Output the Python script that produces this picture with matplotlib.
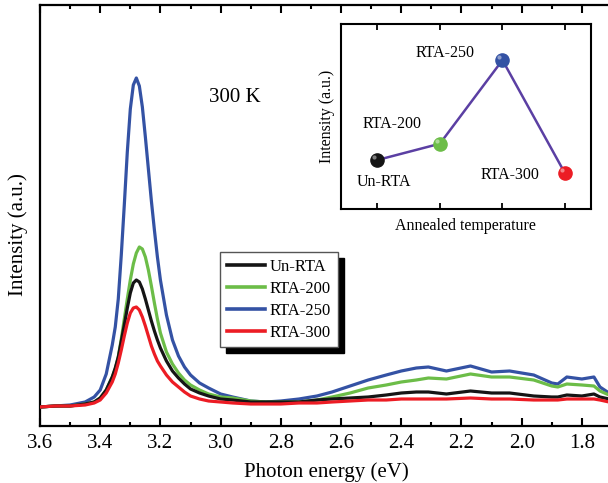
import matplotlib
matplotlib.use('Agg')
import matplotlib.pyplot as plt
import numpy as np

plt.rcParams['font.family'] = ['Liberation Serif', 'DejaVu Serif']

# Photon energy grid (eV) and PL intensities
energy = [3.60, 3.55, 3.50, 3.45, 3.42, 3.40, 3.38, 3.36, 3.35, 3.34, 3.33, 3.32,
          3.31, 3.30, 3.29, 3.28, 3.27, 3.26, 3.25, 3.24, 3.23, 3.22, 3.21, 3.20,
          3.18, 3.16, 3.14, 3.12, 3.10, 3.07, 3.04, 3.00, 2.96, 2.90, 2.85, 2.80,
          2.74, 2.68, 2.63, 2.57, 2.51, 2.45, 2.40, 2.35, 2.31, 2.25, 2.17, 2.10,
          2.04, 1.96, 1.90, 1.88, 1.85, 1.80, 1.76, 1.74, 1.71]

un_rta = [0, 1, 1, 3, 5, 9, 17, 30, 39, 50, 66, 82,
          99, 114, 124, 127, 125, 118, 108, 97, 86, 76, 67, 59,
          46, 36, 29, 23, 18, 14, 11, 8, 7, 5, 5, 5,
          5, 7, 8, 9, 10, 12, 14, 15, 15, 13, 16, 14,
          14, 11, 10, 10, 12, 11, 13, 10, 8]

rta_200 = [0, 1, 1, 3, 5, 9, 17, 30, 38, 50, 68, 88,
           108, 127, 143, 154, 160, 158, 150, 137, 121, 104, 88, 74,
           55, 43, 34, 27, 22, 17, 13, 10, 9, 6, 5, 5,
           5, 7, 10, 14, 19, 22, 25, 27, 29, 28, 33, 30,
           30, 27, 21, 20, 23, 22, 21, 16, 12]

rta_250 = [0, 1, 2, 5, 10, 17, 33, 62, 80, 108, 152, 202,
           255, 298, 322, 329, 321, 300, 270, 238, 206, 177, 150, 127,
           92, 67, 51, 40, 32, 24, 19, 13, 10, 6, 5, 6,
           8, 11, 15, 21, 27, 32, 36, 39, 40, 36, 41, 35,
           36, 32, 24, 23, 30, 28, 30, 20, 14]

rta_300 = [0, 1, 1, 2, 4, 7, 14, 25, 33, 44, 57, 71,
           84, 94, 99, 100, 97, 90, 81, 71, 61, 53, 46, 41,
           32, 25, 20, 15, 11, 8, 6, 5, 4, 3, 3, 3,
           4, 4, 5, 6, 7, 7, 8, 8, 8, 8, 9, 8,
           8, 7, 7, 7, 8, 8, 8, 7, 5]

labels = ['Un-RTA', 'RTA-200', 'RTA-250', 'RTA-300']
colors = ['#151515', '#6cbd48', '#3452a4', '#ec1c24']

# inset: peak intensity vs annealing
inset_pos = [0, 1, 2, 3]
peak_int = [127, 160, 329, 100]

fig = plt.figure(figsize=(6.08, 4.83), dpi=100)
ax = fig.add_axes([40 / 608, 1 - 426 / 483, 572 / 608, 421 / 483])

series = [un_rta, rta_200, rta_250, rta_300]
zord = [4, 3, 2, 5]
handles = []
for y, c, lab, z in zip(series, colors, labels, zord):
    h, = ax.plot(energy, y, color=c, lw=2.3, label=lab, zorder=z)
    handles.append(h)

ax.set_xlim(3.6, 1.7)
ax.set_ylim(-19, 402)
ax.set_xticks(np.arange(3.6, 1.75, -0.2))
ax.set_xticklabels(['3.6', '3.4', '3.2', '3.0', '2.8', '2.6', '2.4', '2.2', '2.0', '1.8'])
ax.set_xticks(np.arange(3.5, 1.7, -0.2), minor=True)
ax.set_yticks([])
ax.tick_params(axis='x', which='major', direction='in', length=6, width=1.5,
               top=True, labelsize=15, pad=6)
ax.tick_params(axis='x', which='minor', direction='in', length=3, width=1.5, top=True)
for s in ax.spines.values():
    s.set_linewidth(1.6)

ax.set_xlabel('Photon energy (eV)', fontsize=15)
ax.xaxis.set_label_coords(0.5, -0.085)
ax.set_ylabel('Intensity (a.u.)', fontsize=15)
ax.yaxis.set_label_coords(-0.021, 0.454)

fig.text(235 / 608, 1 - 98 / 483, '300 K', fontsize=15, ha='center', va='center')

leg = ax.legend(handles=handles, loc='upper left',
                bbox_to_anchor=(220 / 608, 1 - 252 / 483), bbox_transform=fig.transFigure,
                borderaxespad=0, fontsize=12, handlelength=2.3, handletextpad=0.3,
                borderpad=0.4, labelspacing=0.36, fancybox=False,
                shadow={'ox': 4.3, 'oy': -4.3, 'facecolor': 'black',
                        'edgecolor': 'black', 'alpha': 1})
leg.get_frame().set_edgecolor('#555555')
leg.get_frame().set_linewidth(1.0)
for ln in leg.get_lines():
    ln.set_linewidth(2.6)

# inset
ax2 = fig.add_axes([340.7 / 608, 1 - 209 / 483, 250 / 608, 185 / 483])
ax2.plot(inset_pos, peak_int, color='#5b3fa3', lw=1.8, zorder=2)
for xx, yy, c in zip(inset_pos, peak_int, colors):
    ax2.plot(xx, yy, 'o', ms=9.5, color=c, mec=c, zorder=3)
    ax2.plot(xx - 0.05, yy + 6, 'o', ms=3, color='white', alpha=0.45, mew=0, zorder=4)
ax2.set_xlim(-0.585, 3.41)
ax2.set_ylim(28, 402)
ax2.set_xticks(inset_pos)
ax2.set_xticklabels([])
ax2.set_yticks([])
ax2.tick_params(axis='x', direction='in', length=4, width=1.3, top=True)
for s in ax2.spines.values():
    s.set_linewidth(1.5)
ax2.set_xlabel('Annealed temperature', fontsize=11.5, labelpad=3)
ax2.set_ylabel('Intensity (a.u.)', fontsize=11.5, labelpad=4)

txt_pos = {'Un-RTA': (384, 182), 'RTA-200': (392, 124), 'RTA-250': (445, 53),
           'RTA-300': (510, 175)}
for lab in labels:
    px, py = txt_pos[lab]
    fig.text(px / 608, 1 - py / 483, lab, fontsize=11.5, ha='center', va='center')

fig.savefig('out.png', dpi=100)
